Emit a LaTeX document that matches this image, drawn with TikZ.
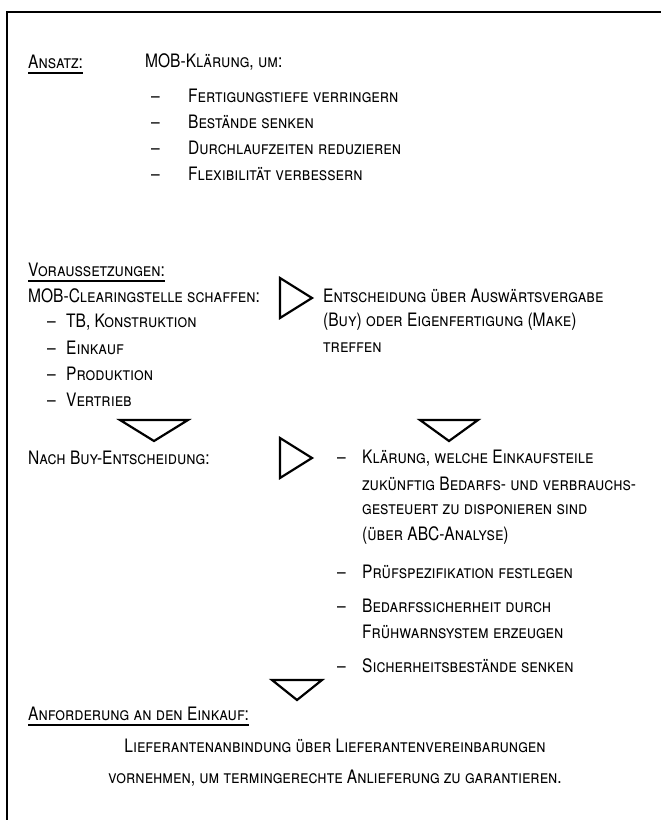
\documentclass[tikz,border=0pt]{standalone}
\usepackage{fontspec}
\setmainfont{TeX Gyre Heros}[FakeStretch=0.84]
\usetikzlibrary{positioning}

\newcommand{\dashitem}[2]{\makebox[#1][l]{--}#2}

\tikzset{
  txt/.style={anchor=west, inner sep=0pt, font=\fontsize{18.5}{20}\selectfont\scshape},
  uline/.style={line width=1.6pt},
  tri/.style={line width=2.2pt, line join=miter},
  rahmen/.style={line width=1.2pt},
}

\begin{document}
\begin{tikzpicture}[x=1pt, y=-1pt]
\useasboundingbox (0,0) rectangle (661,820);

% Rahmen
\draw[rahmen] (7,820) -- (7,12) -- (661,12);

% Ansatz
\node[txt] (ansatz) at (28,62) {Ansatz:};
\draw[uline] ([yshift=-4pt]ansatz.south west) -- ([yshift=-4pt]ansatz.south east);
\node[txt] (mob) at (145,62) {MOB-Klärung, um:};
\foreach \t [count=\i] in {Fertigungstiefe verringern, Bestände senken,
    Durchlaufzeiten reduzieren, Flexibilität verbessern} {
    \node[txt] (ziel\i) at (151,70+26*\i) {\dashitem{37pt}{\t}};
}

% Voraussetzungen
\node[txt] (vor) at (28,270) {Voraussetzungen:};
\draw[uline] ([yshift=-4pt]vor.south west) -- ([yshift=-4pt]vor.south east);
\node[txt] (clear) at (28,296) {MOB-Clearingstelle schaffen:};
\foreach \t [count=\i] in {{TB, Konstruktion}, Einkauf, Produktion, Vertrieb} {
    \node[txt] (stelle\i) at (47,296+26*\i) {\dashitem{19pt}{\t}};
}
\node[txt] (ent1) at (323,296) {Entscheidung über Auswärtsvergabe};
\node[txt] (ent2) at (323,322) {(Buy) oder Eigenfertigung (Make)};
\node[txt] (ent3) at (323,348) {treffen};
\draw[tri] (280,278) -- (312,298) -- (280,318) -- cycle;

% Abwaerts
\draw[tri] (120,420) -- (188,420) -- (154,441) -- cycle;
\draw[tri] (420,420) -- (478,420) -- (449,441) -- cycle;

% Nach Buy-Entscheidung
\node[txt] (buy) at (28,458) {Nach Buy-Entscheidung:};
\draw[tri] (280,438) -- (312,458) -- (280,478) -- cycle;
\node[txt] (k1) at (337,458) {\dashitem{25pt}{Klärung, welche Einkaufsteile}};
\node[txt] (k2) at (362,484) {zukünftig Bedarfs- und verbrauchs-};
\node[txt] (k3) at (362,510) {gesteuert zu disponieren sind};
\node[txt] (k4) at (362,536) {(über ABC-Analyse)};
\node[txt] (pruef) at (337,572) {\dashitem{25pt}{Prüfspezifikation festlegen}};
\node[txt] (bed1) at (337,606) {\dashitem{25pt}{Bedarfssicherheit durch}};
\node[txt] (bed2) at (362,632) {Frühwarnsystem erzeugen};
\node[txt] (sich) at (337,666) {\dashitem{25pt}{Sicherheitsbestände senken}};
\draw[tri] (272,680) -- (322,680) -- (297,700) -- cycle;

% Anforderung
\node[txt] (anf) at (28,714) {Anforderung an den Einkauf:};
\draw[uline] ([yshift=-4pt]anf.south west) -- ([yshift=-4pt]anf.south east);
\node[txt, anchor=center] (lief1) at (335,746) {Lieferantenanbindung über Lieferantenvereinbarungen};
\node[txt, anchor=center] (lief2) at (335,778) {vornehmen, um termingerechte Anlieferung zu garantieren.};
\end{tikzpicture}
\end{document}
